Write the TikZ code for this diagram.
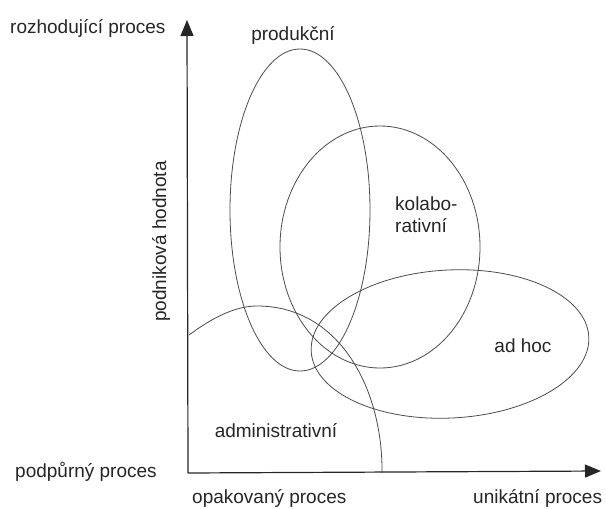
\documentclass[tikz,border=0pt]{standalone}
\usepackage{fontspec}
\setmainfont{Liberation Sans}
\usetikzlibrary{arrows.meta}
\begin{document}
\begin{tikzpicture}[x=1pt,y=-1pt,
  axis/.style={line width=1.2pt, black!85, -{Triangle[length=16pt,width=13pt]}},
  region/.style={line width=0.8pt, black!70},
  lbl/.style={inner sep=0pt, font=\fontsize{19}{23}\selectfont, text=black!85}]
\useasboundingbox (0,0) rectangle (606,509);
\fill[white] (0,0) rectangle (606,509);

% axes
\coordinate (O) at (188,473);
\coordinate (ytip) at (187,20);
\coordinate (xtip) at (601,471);
\draw[axis] (O) -- (ytip);
\draw[axis] (O) -- (xtip);

% process regions
\draw[region] (300,210) ellipse [x radius=70pt, y radius=161pt];
\draw[region] (380,247) ellipse [x radius=100pt, y radius=121pt];
\draw[region, rotate around={3:(450,344)}] (450,344) ellipse [x radius=139pt, y radius=74pt];
\coordinate (a0) at (189,335);
\coordinate (a1) at (257,306);
\coordinate (a2) at (382,473);
\draw[region] (a0) .. controls (212,318) and (235,306) .. (a1)
                   .. controls (340,306) and (383,390) .. (a2);

% labels
\node[lbl, anchor=base west] (rozh) at (10,33) {rozhodující proces};
\node[lbl, anchor=base west] (podp) at (15,477) {podpůrný proces};
\node[lbl, anchor=base west] (opak) at (192,503) {opakovaný proces};
\node[lbl, anchor=base west] (unik) at (473,503) {unikátní proces};
\node[lbl, anchor=base west, rotate=90] (hodn) at (166,322) {podniková hodnota};
\node[lbl, anchor=base] (prod) at (293,40) {produkční};
\node[lbl, anchor=base west] (kol1) at (395,210) {kolabo-};
\node[lbl, anchor=base west] (kol2) at (395,232) {rativní};
\node[lbl, anchor=base] (adhoc) at (523,352) {ad hoc};
\node[lbl, anchor=base] (admin) at (276,437) {administrativní};
\end{tikzpicture}
\end{document}
